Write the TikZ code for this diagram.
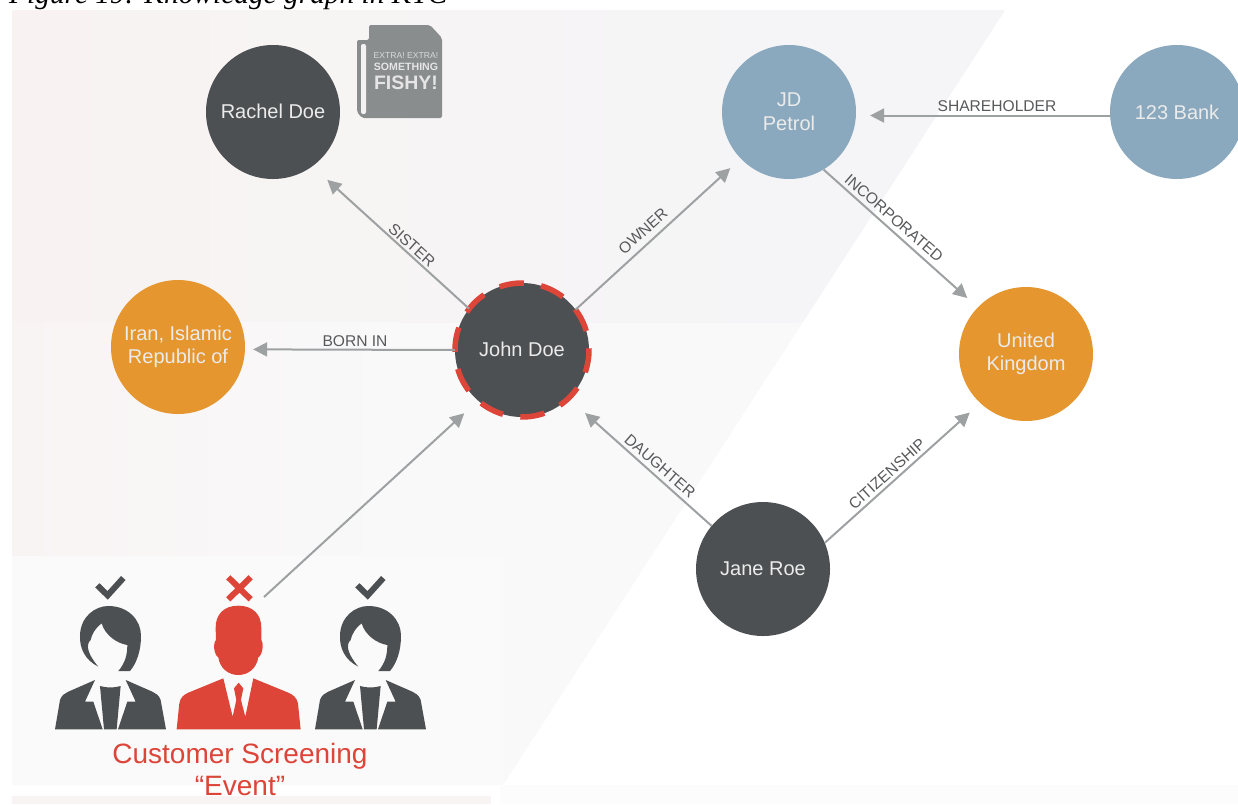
\documentclass[tikz,border=0pt]{standalone}
\usepackage{fontspec}
\setmainfont{Liberation Sans}
\newfontfamily\titlefont{Liberation Serif}
\usetikzlibrary{arrows.meta}
\definecolor{darkc}{HTML}{4D5052}
\definecolor{bluec}{HTML}{8AA9BE}
\definecolor{orangec}{HTML}{E5962F}
\definecolor{redc}{HTML}{DD4539}
\definecolor{linec}{HTML}{9EA1A2}
\definecolor{labelc}{HTML}{58595B}
\definecolor{bookc}{HTML}{8A8D8D}
\definecolor{bga}{HTML}{F8F4F4}
\definecolor{bgb}{HTML}{F9F9FA}
\definecolor{bgc}{HTML}{F5F5F7}
\definecolor{bge}{HTML}{F8F3F2}
\definecolor{bgg}{HTML}{F9F4F4}
\definecolor{bgh}{HTML}{FAFAFA}
\definecolor{bgi}{HTML}{FCFCFC}
\tikzset{
  entity/.style={circle,minimum size=134pt,inner sep=0pt,align=center,text=white!92!black,font=\fontsize{20}{24}\selectfont},
  darkent/.style={entity,fill=darkc},
  blueent/.style={entity,fill=bluec},
  orangeent/.style={entity,fill=orangec},
  rel/.style={draw=linec,line width=2pt,-{Triangle[length=14pt,width=14pt]}},
  rellabel/.style={text=labelc,font=\fontsize{15.6}{16}\selectfont,inner sep=0pt},
  marktick/.style={draw=#1,line width=6pt}
}
\newcommand{\womanicon}[1]{%
  \begin{scope}[shift={(#1,560)},x=0.3333pt,y=-0.3333pt]
    \fill[darkc,even odd rule] (175,320) .. controls (135,300) and (118,265) .. (120,225)
      .. controls (122,170) and (165,138) .. (205,138)
      .. controls (265,138) and (302,180) .. (303,225)
      .. controls (304,270) and (290,310) .. (270,333) -- (235,333)
      .. controls (255,310) and (262,285) .. (262,255)
      .. controls (230,250) and (195,225) .. (185,190)
      .. controls (165,205) and (155,225) .. (152,240)
      .. controls (135,255) and (145,285) .. (175,320) -- cycle;
    \fill[darkc] (45,508) -- (60,420) .. controls (65,405) and (75,400) .. (85,395) -- (165,360)
      -- (135,425) -- (160,425) -- (188,508) -- cycle;
    \fill[darkc] (378,508) -- (362,420) .. controls (357,405) and (347,400) .. (337,395) -- (257,360)
      -- (287,425) -- (262,425) -- (234,508) -- cycle;
    \fill[darkc] (180,378) .. controls (200,384) and (222,384) .. (242,378) -- (230,508) -- (192,508) -- cycle;
    \draw[marktick=darkc] (172,76) -- (203,106) -- (250,54);
  \end{scope}}
\begin{document}
\begin{tikzpicture}[x=1pt,y=-1pt]
  \clip (0,0) rectangle (1238,804);
  \fill[white] (0,0) rectangle (1238,804);
  % page background
  \fill[bgi] (500,785) rectangle (1238,804);
  \fill[bga] (12,796) rectangle (491,804);
  \begin{scope}
    \clip (12,10) -- (1005,10) -- (503,785) -- (12,785) -- cycle;
    \fill[bgb] (12,10) rectangle (1005,785);
    \fill[bgc] (800,10) rectangle (1005,322);
    \shade[left color=bge,right color=bgc] (12,10) rectangle (800,322);
    \shade[left color=bgg,right color=bgb] (12,322) rectangle (400,556);
    \fill[bgh] (12,556) rectangle (503,785);
  \end{scope}
  % title
  \node[anchor=base west,inner sep=0pt,font=\titlefont\itshape\fontsize{29.4}{30}\selectfont] (title) at (9,3.5) {Figure 19: Knowledge graph in KYC};

  % entities
  \node[darkent] (rachel) at (273,112) {\raisebox{2pt}{Rachel Doe}};
  \node[blueent] (jd) at (789,112) {JD\\Petrol};
  \node[blueent] (bank) at (1177,112) {123 Bank};
  \node[orangeent] (iran) at (178,347) {\raisebox{-1pt}{Iran, Islamic}\\Republic of};
  \node[darkent] (john) at (522,350) {\raisebox{2.5pt}{John Doe}};
  \node[orangeent] (uk) at (1026,354) {\raisebox{-1pt}{United}\\Kingdom};
  \node[darkent] (jane) at (763,569) {Jane Roe};
  \coordinate (event) at (264,597);

  % dashed ring
  \foreach \a in {0,...,9}{
    \draw[redc,line width=5.5pt] (john.center) ++({-99+36*\a-10.5}:67) arc[start angle={-99+36*\a-10.5},end angle={-99+36*\a+10.5},radius=67];
  }

  % connectors
  \draw[rel,shorten >=20pt] (john.142) -- (rachel.-54.7);
  \draw[rel,shorten >=8pt] (john.180) -- (iran.-2.56);
  \draw[rel,shorten >=14pt] (john.37.4) -- (jd.224.4);
  \draw[rel,shorten >=14pt] (bank.183.4) -- (jd.-3.4);
  \draw[rel,shorten >=14pt] (jd.-59.6) -- (uk.136);
  \draw[rel,shorten >=14pt] (jane.23.5) -- (uk.227.5);
  \draw[rel,shorten >=22pt] (jane.140.4) -- (john.-46);
  \draw[rel,shorten >=18.5pt] (event) -- (john.229.3);

  % connector labels
  \node[rellabel,rotate=-42] (l1) at (412,245) {SISTER};
  \node[rellabel,rotate=42] (l2) at (643,231) {OWNER};
  \node[rellabel] (l3) at (355,341) {BORN IN};
  \node[rellabel] (l4) at (997,106) {SHAREHOLDER};
  \node[rellabel,rotate=-41] (l5) at (894,218) {INCORPORATED};
  \node[rellabel,rotate=-41] (l6) at (660,466) {DAUGHTER};
  \node[rellabel,rotate=42] (l7) at (887,474) {CITIZENSHIP};

  % newspaper
  \fill[bookc,rounded corners=2pt] (369,25) -- (430,25) -- (442,38) -- (442,118) -- (362,118) -- (357,112) -- (357,40) -- (369,40) -- cycle;
  \fill[white!95!black,rounded corners=2pt] (361,44) rectangle (366,114);
  \node[text=white!85!black,font=\fontsize{8.6}{9}\selectfont,inner sep=0pt] (n1) at (406,55.5) {EXTRA! EXTRA!};
  \node[text=white!90!black,font=\bfseries\fontsize{10.6}{11}\selectfont,inner sep=0pt] (n2) at (406,67) {SOMETHING};
  \node[text=white!90!black,font=\bfseries\fontsize{19.5}{20}\selectfont,inner sep=0pt] (n3) at (406,83) {FISHY!};

  % people
  \womanicon{40}
  \womanicon{300}
  \begin{scope}[shift={(40,560)},x=0.3333pt,y=-0.3333pt]
    \fill[redc] (595,137) .. controls (640,137) and (665,165) .. (664,205)
      -- (664,240) .. controls (672,250) and (668,285) .. (655,292)
      .. controls (650,325) and (625,345) .. (595,345)
      .. controls (565,345) and (540,325) .. (535,292)
      .. controls (522,285) and (518,250) .. (528,240)
      -- (527,205) .. controls (526,165) and (550,137) .. (595,137) -- cycle;
    \fill[redc] (410,508) -- (418,430) .. controls (422,412) and (430,405) .. (445,398) -- (550,355)
      -- (578,470) -- (589,420) -- (582,385) -- (596,368) -- (610,385) -- (603,420) -- (616,470)
      -- (640,355) -- (745,398) .. controls (760,405) and (770,412) .. (774,430) -- (782,508) -- cycle;
    \draw[redc,line width=6pt] (565,52) -- (632,118) (632,52) -- (565,118);
  \end{scope}
  \node[text=redc,align=center,font=\fontsize{28}{32}\selectfont,inner sep=0pt] (caption) at (240,769) {Customer Screening\\“Event”};
\end{tikzpicture}
\end{document}
